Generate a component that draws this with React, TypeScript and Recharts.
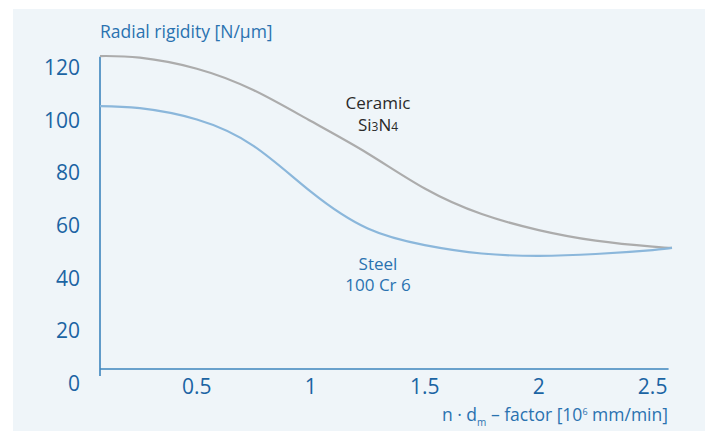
import React from 'react';
import { LineChart, Line, XAxis, YAxis, ReferenceLine } from 'recharts';

// n·dm factor [10^6 mm/min]
const xValues = [0.075, 0.25, 0.5, 0.75, 1.0, 1.25, 1.5, 1.75, 2.0, 2.25, 2.5, 2.585];
// radial rigidity [N/µm]
const ceramicValues = [124.2, 123.6, 119.4, 111.2, 99.5, 87.2, 73.9, 64.2, 58.1, 54.1, 51.8, 51.3];
const steelValues = [105.2, 104.4, 100.1, 90.0, 72.7, 58.7, 52.4, 49.2, 48.3, 49.0, 50.5, 51.3];

const xTicks = [0.5, 1, 1.5, 2, 2.5];
const yTicks = [0, 20, 40, 60, 80, 100, 120];

const data = xValues.map((x, i) => ({ x, ceramic: ceramicValues[i], steel: steelValues[i] }));

const FONT = '"Open Sans", sans-serif';
const TICK_BLUE = '#1b64a3';
const AXIS_BLUE = '#3d85bd';
const TEXT_BLUE = '#2a72b0';

const XTick = (props: any) => {
  const { x, payload } = props;
  return (
    <text x={x} y={386} textAnchor="middle" dominantBaseline="central" fill={TICK_BLUE} fontSize={21} fontFamily={FONT}>
      {payload.value}
    </text>
  );
};

const YTick = (props: any) => {
  const { y, payload } = props;
  return (
    <text x={80} y={y} textAnchor="end" dominantBaseline="central" fill={TICK_BLUE} fontSize={21} fontFamily={FONT}>
      {payload.value}
    </text>
  );
};

export default function App() {
  const xMin = xValues[0];
  return (
    <div style={{ position: 'absolute', left: 0, top: 0, width: 705, height: 431, background: '#fff', overflow: 'hidden' }}>
      <div style={{ position: 'absolute', left: 13, top: 9, width: 692, height: 422, background: '#eff5f9' }} />
      <div style={{ position: 'absolute', left: 0, top: 0 }}>
        <LineChart width={705} height={431} data={data} margin={{ top: 55, right: 33, bottom: 18, left: 40 }}>
          <XAxis
            dataKey="x"
            type="number"
            domain={[xMin, 2.585]}
            ticks={xTicks}
            axisLine={false}
            tickLine={false}
            height={30}
            tick={<XTick />}
          />
          <YAxis
            type="number"
            domain={[0, 124.6]}
            ticks={yTicks}
            axisLine={false}
            tickLine={false}
            width={60}
            tick={<YTick />}
          />
          <ReferenceLine segment={[{ x: xMin, y: 2.66 }, { x: xMin, y: 123.9 }]} stroke={AXIS_BLUE} strokeWidth={1.6} />
          <ReferenceLine segment={[{ x: xMin, y: 5.3 }, { x: 2.57, y: 5.3 }]} stroke={AXIS_BLUE} strokeWidth={1.6} />
          <Line type="natural" dataKey="ceramic" stroke="#acacac" strokeWidth={2.2} dot={false} isAnimationActive={false} />
          <Line type="natural" dataKey="steel" stroke="#8bb7db" strokeWidth={2.2} dot={false} isAnimationActive={false} />
        </LineChart>
      </div>
      <svg width={705} height={431} style={{ position: 'absolute', left: 0, top: 0, pointerEvents: 'none' }}>
        <text x={100} y={38} fill={TEXT_BLUE} fontSize={17.5} fontFamily={FONT}>Radial rigidity [N/μm]</text>
        <text x={378} y={109} textAnchor="middle" fill="#2a2a2a" fontSize={17} fontFamily={FONT}>Ceramic</text>
        <text x={378} y={131} textAnchor="middle" fill="#2a2a2a" fontSize={17} fontFamily={FONT}>
          Si<tspan fontSize={12}>3</tspan>N<tspan fontSize={12}>4</tspan>
        </text>
        <text x={378} y={270} textAnchor="middle" fill={TEXT_BLUE} fontSize={17} fontFamily={FONT}>Steel</text>
        <text x={378} y={291} textAnchor="middle" fill={TEXT_BLUE} fontSize={17} fontFamily={FONT}>100 Cr 6</text>
        <text x={668} y={421} textAnchor="end" fill={TEXT_BLUE} fontSize={17.5} fontFamily={FONT}>
          n · d<tspan fontSize={10} dy={5}>m</tspan><tspan dy={-5}> – factor [10</tspan><tspan fontSize={9} dy={-6}>6</tspan><tspan dy={6}> mm/min]</tspan>
        </text>
      </svg>
    </div>
  );
}
